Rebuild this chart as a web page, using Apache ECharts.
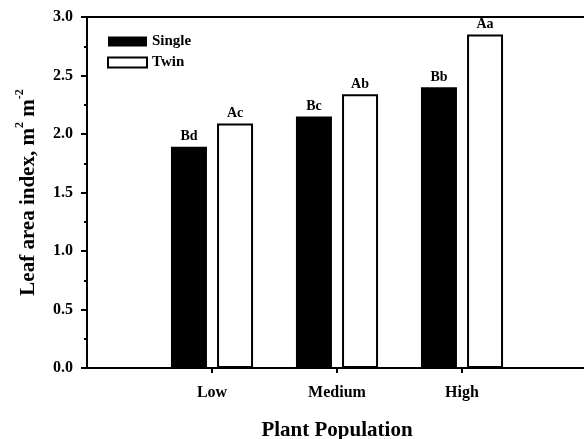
<!DOCTYPE html>
<html><head><meta charset="utf-8">
<script src="https://cdn.jsdelivr.net/npm/echarts@6/dist/echarts.min.js"></script>
<style>html,body{margin:0;padding:0;background:#fff}#c{width:584px;height:439px}</style>
</head><body><div id="c"></div>
<script>
const categories = ['', 'Low', 'Medium', 'High', ''];
const singleValues = [null, 1.89, 2.15, 2.40, null];
const twinValues = [null, 2.09, 2.34, 2.85, null];
const singleLetters = ['', 'Bd', 'Bc', 'Bb', ''];
const twinLetters = ['', 'Ac', 'Ab', 'Aa', ''];
const yTicks = { min: 0, max: 3, interval: 0.5 };

const F = 'Liberation Serif';
const chart = echarts.init(document.getElementById('c'), null, { renderer: 'canvas' });
const lbl = (letters) => ({
  show: true, position: 'top', distance: 3, color: '#000',
  fontFamily: F, fontWeight: 'bold', fontSize: 14,
  formatter: p => letters[p.dataIndex]
});
chart.setOption({
  backgroundColor: '#fff',
  animation: false,
  grid: { left: 87, width: 500, top: 17, height: 351, outerBoundsMode: 'none', containLabel: false,
    show: true, borderColor: '#000', borderWidth: 2, backgroundColor: 'transparent' },
  legend: {
    left: 102, top: 29, orient: 'vertical', itemWidth: 39, itemHeight: 10, itemGap: 6,
    textStyle: { fontFamily: F, fontWeight: 'bold', fontSize: 15, color: '#000' },
    data: [
      { name: 'Single', icon: 'rect', itemStyle: { color: '#000', borderColor: '#000', borderWidth: 0 } },
      { name: 'Twin', icon: 'rect', itemStyle: { color: '#fff', borderColor: '#000', borderWidth: 2 } }
    ]
  },
  xAxis: {
    type: 'category', data: categories, boundaryGap: false,
    axisLine: { lineStyle: { color: '#000', width: 2 } },
    axisTick: { show: true, length: 5, inside: false, lineStyle: { color: '#000', width: 2 }, interval: (i) => i >= 1 && i <= 3 },
    axisLabel: { color: '#000', fontFamily: F, fontWeight: 'bold', fontSize: 16, margin: 17, interval: 0 },
    name: 'Plant Population', nameLocation: 'middle', nameGap: 52,
    nameTextStyle: { color: '#000', fontFamily: F, fontWeight: 'bold', fontSize: 21 }
  },
  yAxis: {
    type: 'value', min: yTicks.min, max: yTicks.max, interval: yTicks.interval,
    splitLine: { show: false },
    axisLine: { show: true, lineStyle: { color: '#000', width: 2 } },
    axisTick: { show: true, length: 6, lineStyle: { color: '#000', width: 2 } },
    minorTick: { show: true, splitNumber: 2, length: 3, lineStyle: { color: '#000', width: 2 } },
    axisLabel: { color: '#000', fontFamily: F, fontWeight: 'bold', fontSize: 16, margin: 14, formatter: v => v.toFixed(1) },
    name: '{a|Leaf area index, m}{s|2}{a| m}{s|-2}', nameLocation: 'middle', nameGap: 48,
    nameTextStyle: {
      color: '#000', fontFamily: F, fontWeight: 'bold', fontSize: 21,
      rich: {
        a: { fontFamily: F, fontWeight: 'bold', fontSize: 21, color: '#000', lineHeight: 25, verticalAlign: 'bottom' },
        s: { fontFamily: F, fontWeight: 'bold', fontSize: 12, color: '#000', lineHeight: 13, verticalAlign: 'top' }
      }
    }
  },
  series: [
    { name: 'Single', type: 'bar', data: singleValues, barWidth: 36, barGap: '28%',
      itemStyle: { color: '#000' }, label: lbl(singleLetters) },
    { name: 'Twin', type: 'bar', data: twinValues, barWidth: 36,
      itemStyle: { color: '#fff', borderColor: '#000', borderWidth: 2 }, label: lbl(twinLetters) }
  ]
});
</script></body></html>
